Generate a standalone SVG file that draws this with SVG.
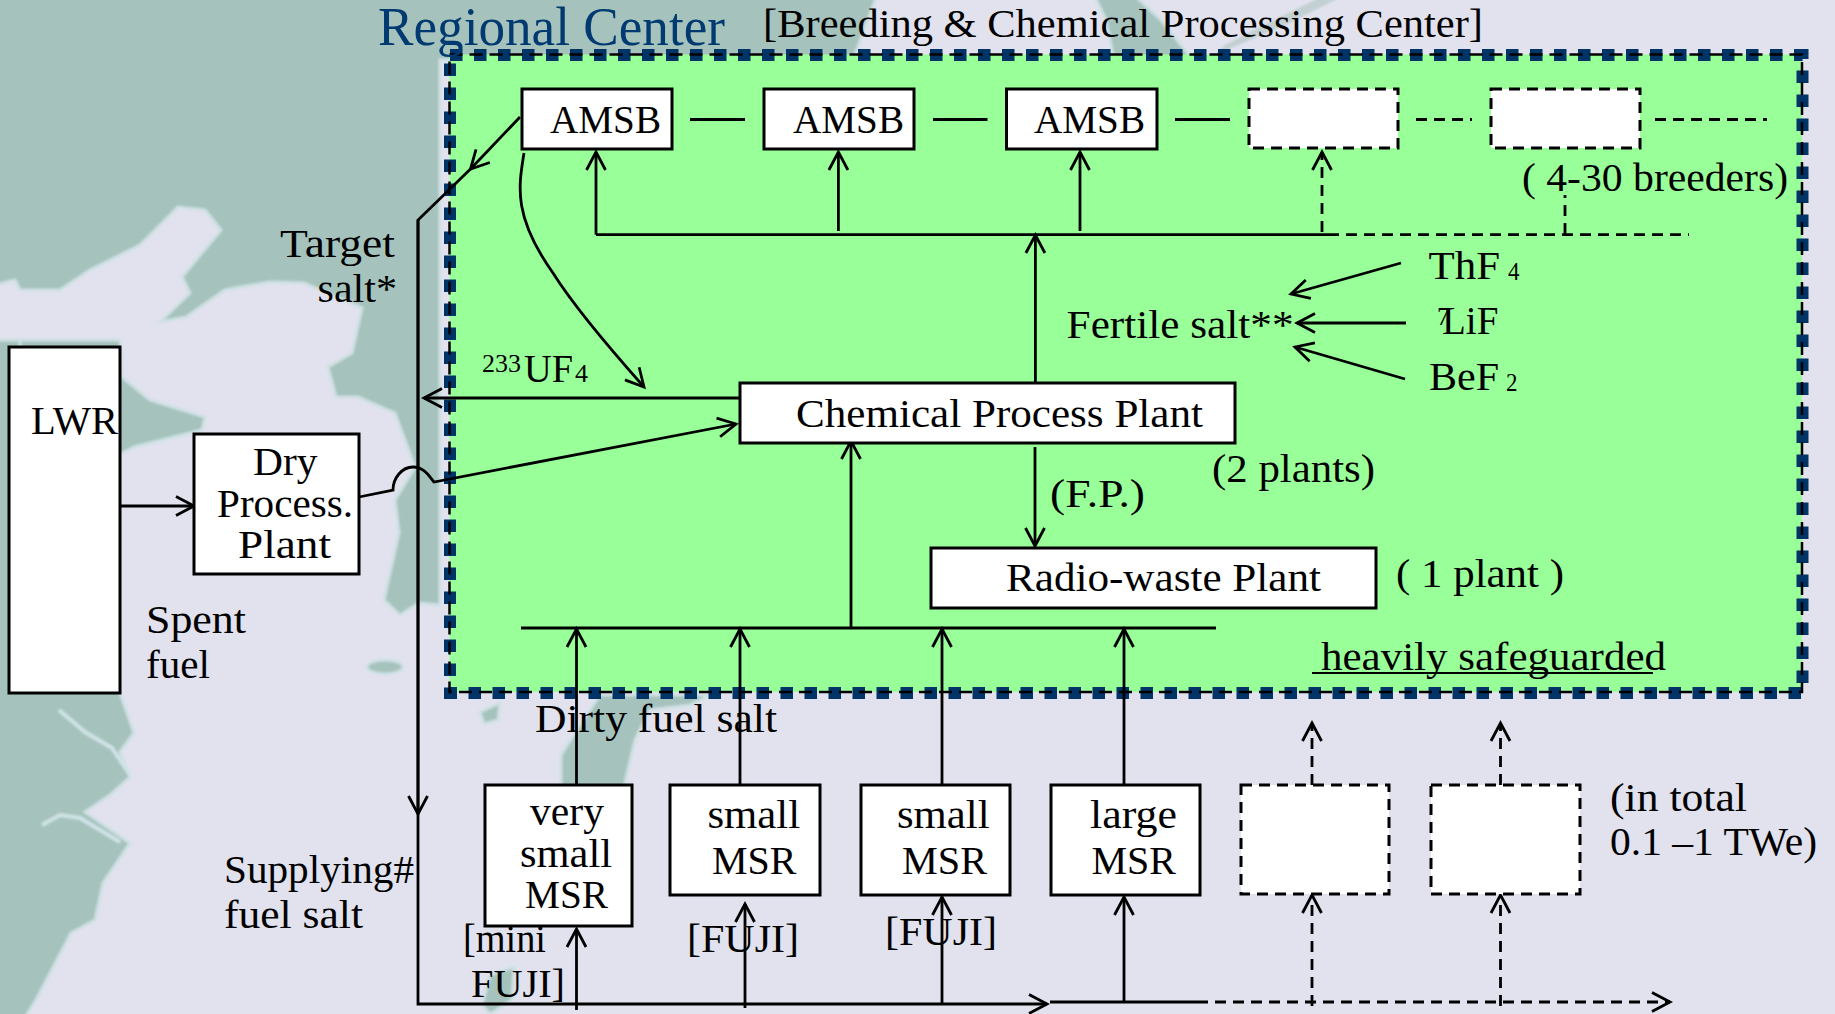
<svg xmlns="http://www.w3.org/2000/svg" width="1835" height="1014" viewBox="0 0 1835 1014">
<style>
text{font-family:"Liberation Serif","Times New Roman",serif;font-size:39px;fill:#000}
.sub{font-size:25px}
.title{font-size:54px;fill:#003a70}
.box{fill:#fff;stroke:#000;stroke-width:3}
.dbox{fill:#fff;stroke:#000;stroke-width:3;stroke-dasharray:11 7}
.c{fill:none;stroke:#000;stroke-width:2.8}
.d{fill:none;stroke:#000;stroke-width:2.8;stroke-dasharray:11 7}
.teal{fill:#a5c3bc;stroke:#cfe0e4;stroke-width:3}
.shore{fill:none;stroke:#cfe3e6;stroke-width:4}
</style>
<defs>
<marker id="v" markerUnits="userSpaceOnUse" markerWidth="24" markerHeight="26" viewBox="-21 -13 24 26" refX="0" refY="0" orient="auto"><path d="M-18,-9.500 L0,0 L-18,9.500" fill="none" stroke="#000" stroke-width="2.800"/></marker>
<filter id="soft" x="-2%" y="-2%" width="104%" height="104%"><feGaussianBlur stdDeviation="1.200"/></filter>
</defs>
<g id="background">
<rect width="1835" height="1014" fill="#e1e2ee"/>
<g filter="url(#soft)">
<path class="teal" d="M-5,-5 H877 L853,60 H440 V605 L419,603 L400,615 L384,600 L399,533 L395,500 L415,467 L395,413 L358,397 L336,397 L328,367 L352,353 L362,308 L304,283 L269,282 L225,290 L186,317 L160,322 L190,293 L182,277 L221,230 L205,210 L178,207 L140,245 L90,270 L60,290 L20,290 L15,280 L-5,285 Z"/>
<path class="teal" d="M122,377 L150,400 L205,417 L202,430 L134,447 L110,460 V600 H-5 V340 L10,340 H120 Z"/>
<path class="teal" d="M-5,340 H20 V690 H119 L134,733 L120,752 L130,777 L110,795 L85,812 L130,843 L103,883 L95,920 L71,933 L36,1000 L24,1019 H-5 Z"/>
<path class="shore" d="M59,710 L85,732 L112,748 L130,775"/>
<path class="shore" d="M42,825 L60,815 L80,818 L120,842"/>
<path class="teal" d="M1094,-5 H1134 L1161,20 L1193,60 H1114 L1106,20 Z"/>
<path d="M1215,55 L1285,25 L1345,-5 H1325 L1270,22 L1225,45 Z" fill="#c3d0d2"/>
<path class="teal" d="M561,787 L561,755 L575,733 L600,695 H711 L690,705 L650,710 L635,740 L624,787 Z"/>
<path class="teal" d="M480,712 L500,703 L498,720 L484,724 Z"/>
<ellipse class="teal" cx="385" cy="667" rx="18" ry="7"/>
<path class="teal" d="M482,1005 L490,975 L514,967 L512,1000 L490,1014 Z"/>
</g>
</g>
<g id="regional-center">
<rect x="449.500" y="54.500" width="1352.500" height="637.500" fill="#99ff99"/>
<rect x="450" y="55" width="1352.500" height="638" fill="none" stroke="#003366" stroke-width="12" stroke-dasharray="12.500 11.500"/>
<rect x="449.500" y="54.500" width="1352.500" height="637.500" fill="none" stroke="#000" stroke-width="2.500" stroke-dasharray="13 7"/>
<text class="title" x="378" y="45" textLength="347" lengthAdjust="spacingAndGlyphs">Regional Center</text>
<text x="763" y="37" textLength="720" lengthAdjust="spacingAndGlyphs">[Breeding &amp; Chemical Processing Center]</text>
<text x="1321" y="670" textLength="345" lengthAdjust="spacingAndGlyphs">heavily safeguarded</text>
<path d="M1312,673 H1653" stroke="#000" stroke-width="2" fill="none"/>
</g>
<g id="connectors">
<path class="c" d="M690,119.500 H745 M933,119.500 H987.500 M1175,119.500 H1230"/>
<path class="d" d="M1416,119.500 H1472 M1655,119.500 H1767"/>
<path class="c" d="M596,234.700 H1328"/>
<path class="d" d="M1328,234.700 H1689 M1565,234 V195"/>
<path class="c" d="M596,234.700 V152" marker-end="url(#v)"/>
<path class="c" d="M838.400,231 V152" marker-end="url(#v)"/>
<path class="c" d="M1080,231 V152" marker-end="url(#v)"/>
<path class="d" d="M1322,232 V152" marker-end="url(#v)"/>
<path class="c" d="M1035.400,383 V235" marker-end="url(#v)"/>
<path class="c" d="M520,117 L470.500,169" marker-end="url(#v)"/>
<path class="c" d="M470.500,169 L418,220 V1004 H1047" marker-end="url(#v)"/>
<path class="c" d="M418,220 V814" marker-end="url(#v)"/>
<path class="c" d="M524,153 C519,185 512,215 553,273 C575,308 620,360 644,387" marker-end="url(#v)"/>
<path class="c" d="M741,398 H424" marker-end="url(#v)"/>
<path class="c" d="M359,497 L393,490 C393,478 402,467 413,467 C424,467 429,476 434,482 L736,424" marker-end="url(#v)"/>
<path class="c" d="M120,506 H194" marker-end="url(#v)"/>
<path class="c" d="M521,628 H1216"/>
<path class="c" d="M576.500,785 V629" marker-end="url(#v)"/>
<path class="c" d="M740,785 V629" marker-end="url(#v)"/>
<path class="c" d="M942,785 V629" marker-end="url(#v)"/>
<path class="c" d="M1124,785 V629" marker-end="url(#v)"/>
<path class="c" d="M851,628 V441" marker-end="url(#v)"/>
<path class="c" d="M1035,447 V546" marker-end="url(#v)"/>
<path class="c" d="M576.500,1010 V929" marker-end="url(#v)"/>
<path class="c" d="M745,1008 V904" marker-end="url(#v)"/>
<path class="c" d="M942,1004 V897" marker-end="url(#v)"/>
<path class="c" d="M1124,1002 V897" marker-end="url(#v)"/>
<path class="c" d="M1050,1002 H1197"/>
<path class="d" d="M1197,1002 H1670" marker-end="url(#v)"/>
<path class="d" d="M1312,1006 V895" marker-end="url(#v)"/>
<path class="d" d="M1500.500,1006 V895" marker-end="url(#v)"/>
<path class="d" d="M1312,785 V723" marker-end="url(#v)"/>
<path class="d" d="M1500.500,785 V723" marker-end="url(#v)"/>
<path class="c" d="M1401,263 L1291,294" marker-end="url(#v)"/>
<path class="c" d="M1406,323 H1297" marker-end="url(#v)"/>
<path class="c" d="M1405,379 L1295,347" marker-end="url(#v)"/>
</g>
<g id="amsb-1"><rect class="box" x="522" y="89" width="150" height="60"/><text x="550" y="133" textLength="111" lengthAdjust="spacingAndGlyphs">AMSB</text></g>
<g id="amsb-2"><rect class="box" x="764" y="89" width="150" height="60"/><text x="793" y="133" textLength="111" lengthAdjust="spacingAndGlyphs">AMSB</text></g>
<g id="amsb-3"><rect class="box" x="1006.500" y="89" width="150.500" height="60"/><text x="1034" y="133" textLength="111" lengthAdjust="spacingAndGlyphs">AMSB</text></g>
<g id="breeder-4"><rect class="dbox" x="1249" y="89" width="149" height="59"/></g>
<g id="breeder-5"><rect class="dbox" x="1491" y="89" width="149" height="59"/></g>
<g id="chemical-plant"><rect class="box" x="740" y="383" width="495" height="60"/><text x="796" y="427" textLength="407" lengthAdjust="spacingAndGlyphs">Chemical Process Plant</text></g>
<g id="radio-waste-plant"><rect class="box" x="931" y="548" width="445" height="60"/><text x="1006" y="591" textLength="315" lengthAdjust="spacingAndGlyphs">Radio-waste Plant</text></g>
<g id="lwr"><rect class="box" x="9" y="347" width="111" height="346"/><text x="31" y="434" textLength="87" lengthAdjust="spacingAndGlyphs">LWR</text></g>
<g id="dry-plant"><rect class="box" x="194" y="434" width="165" height="140"/>
<text x="253" y="475" textLength="64.500" lengthAdjust="spacingAndGlyphs">Dry</text>
<text x="217" y="517" textLength="136" lengthAdjust="spacingAndGlyphs">Process.</text>
<text x="238" y="558" textLength="93" lengthAdjust="spacingAndGlyphs">Plant</text></g>
<g id="msr-very-small"><rect class="box" x="485" y="785" width="147" height="141"/>
<text x="530" y="825" textLength="74" lengthAdjust="spacingAndGlyphs">very</text>
<text x="520" y="867" textLength="92" lengthAdjust="spacingAndGlyphs">small</text>
<text x="525" y="908" textLength="83" lengthAdjust="spacingAndGlyphs">MSR</text></g>
<g id="msr-small-1"><rect class="box" x="670" y="785" width="150" height="110"/>
<text x="707.500" y="828" textLength="92.500" lengthAdjust="spacingAndGlyphs">small</text>
<text x="712" y="874" textLength="84.500" lengthAdjust="spacingAndGlyphs">MSR</text></g>
<g id="msr-small-2"><rect class="box" x="861" y="785" width="149" height="110"/>
<text x="897" y="828" textLength="92.500" lengthAdjust="spacingAndGlyphs">small</text>
<text x="902" y="874" textLength="85" lengthAdjust="spacingAndGlyphs">MSR</text></g>
<g id="msr-large"><rect class="box" x="1051" y="785" width="149" height="110"/>
<text x="1090" y="828" textLength="87" lengthAdjust="spacingAndGlyphs">large</text>
<text x="1091.500" y="874" textLength="84.500" lengthAdjust="spacingAndGlyphs">MSR</text></g>
<g id="msr-5"><rect class="dbox" x="1241" y="785" width="148" height="109"/></g>
<g id="msr-6"><rect class="dbox" x="1431" y="785" width="149" height="109"/></g>
<g id="labels">
<text x="280" y="257" textLength="115" lengthAdjust="spacingAndGlyphs">Target</text>
<text x="317.500" y="302" textLength="79.500" lengthAdjust="spacingAndGlyphs">salt*</text>
<text class="sub" x="482" y="372" textLength="39" lengthAdjust="spacingAndGlyphs">233</text>
<text x="524" y="382" textLength="49" lengthAdjust="spacingAndGlyphs">UF</text>
<text class="sub" x="575" y="382" textLength="13" lengthAdjust="spacingAndGlyphs">4</text>
<text x="146" y="633" textLength="100" lengthAdjust="spacingAndGlyphs">Spent</text>
<text x="146" y="678" textLength="64" lengthAdjust="spacingAndGlyphs">fuel</text>
<text x="224" y="883" textLength="190" lengthAdjust="spacingAndGlyphs">Supplying#</text>
<text x="224" y="928" textLength="139" lengthAdjust="spacingAndGlyphs">fuel salt</text>
<text x="535" y="732" textLength="242" lengthAdjust="spacingAndGlyphs">Dirty fuel salt</text>
<text x="463" y="952" textLength="83" lengthAdjust="spacingAndGlyphs">[mini</text>
<text x="471" y="997" textLength="94" lengthAdjust="spacingAndGlyphs">FUJI]</text>
<text x="687" y="952" textLength="112" lengthAdjust="spacingAndGlyphs">[FUJI]</text>
<text x="885" y="945" textLength="112" lengthAdjust="spacingAndGlyphs">[FUJI]</text>
<text x="1610" y="811" textLength="137" lengthAdjust="spacingAndGlyphs">(in total</text>
<text x="1610" y="855" textLength="207" lengthAdjust="spacingAndGlyphs">0.1 –1 TWe)</text>
<text x="1050" y="507" textLength="95" lengthAdjust="spacingAndGlyphs">(F.P.)</text>
<text x="1212" y="482" textLength="163" lengthAdjust="spacingAndGlyphs">(2 plants)</text>
<text x="1396" y="587" textLength="168" lengthAdjust="spacingAndGlyphs">( 1 plant )</text>
<text x="1522" y="191" textLength="266" lengthAdjust="spacingAndGlyphs">( 4-30 breeders)</text>
<text x="1066.600" y="338" textLength="227" lengthAdjust="spacingAndGlyphs">Fertile salt**</text>
<text x="1428.500" y="279" textLength="71.500" lengthAdjust="spacingAndGlyphs">ThF</text>
<text class="sub" x="1508" y="280" textLength="11.500" lengthAdjust="spacingAndGlyphs">4</text>
<text x="1437" y="334"><tspan class="sub" y="325">7</tspan><tspan x="1442" y="334">LiF</tspan></text>
<text x="1429" y="390" textLength="70" lengthAdjust="spacingAndGlyphs">BeF</text>
<text class="sub" x="1506" y="391" textLength="11.500" lengthAdjust="spacingAndGlyphs">2</text>
</g>
</svg>
